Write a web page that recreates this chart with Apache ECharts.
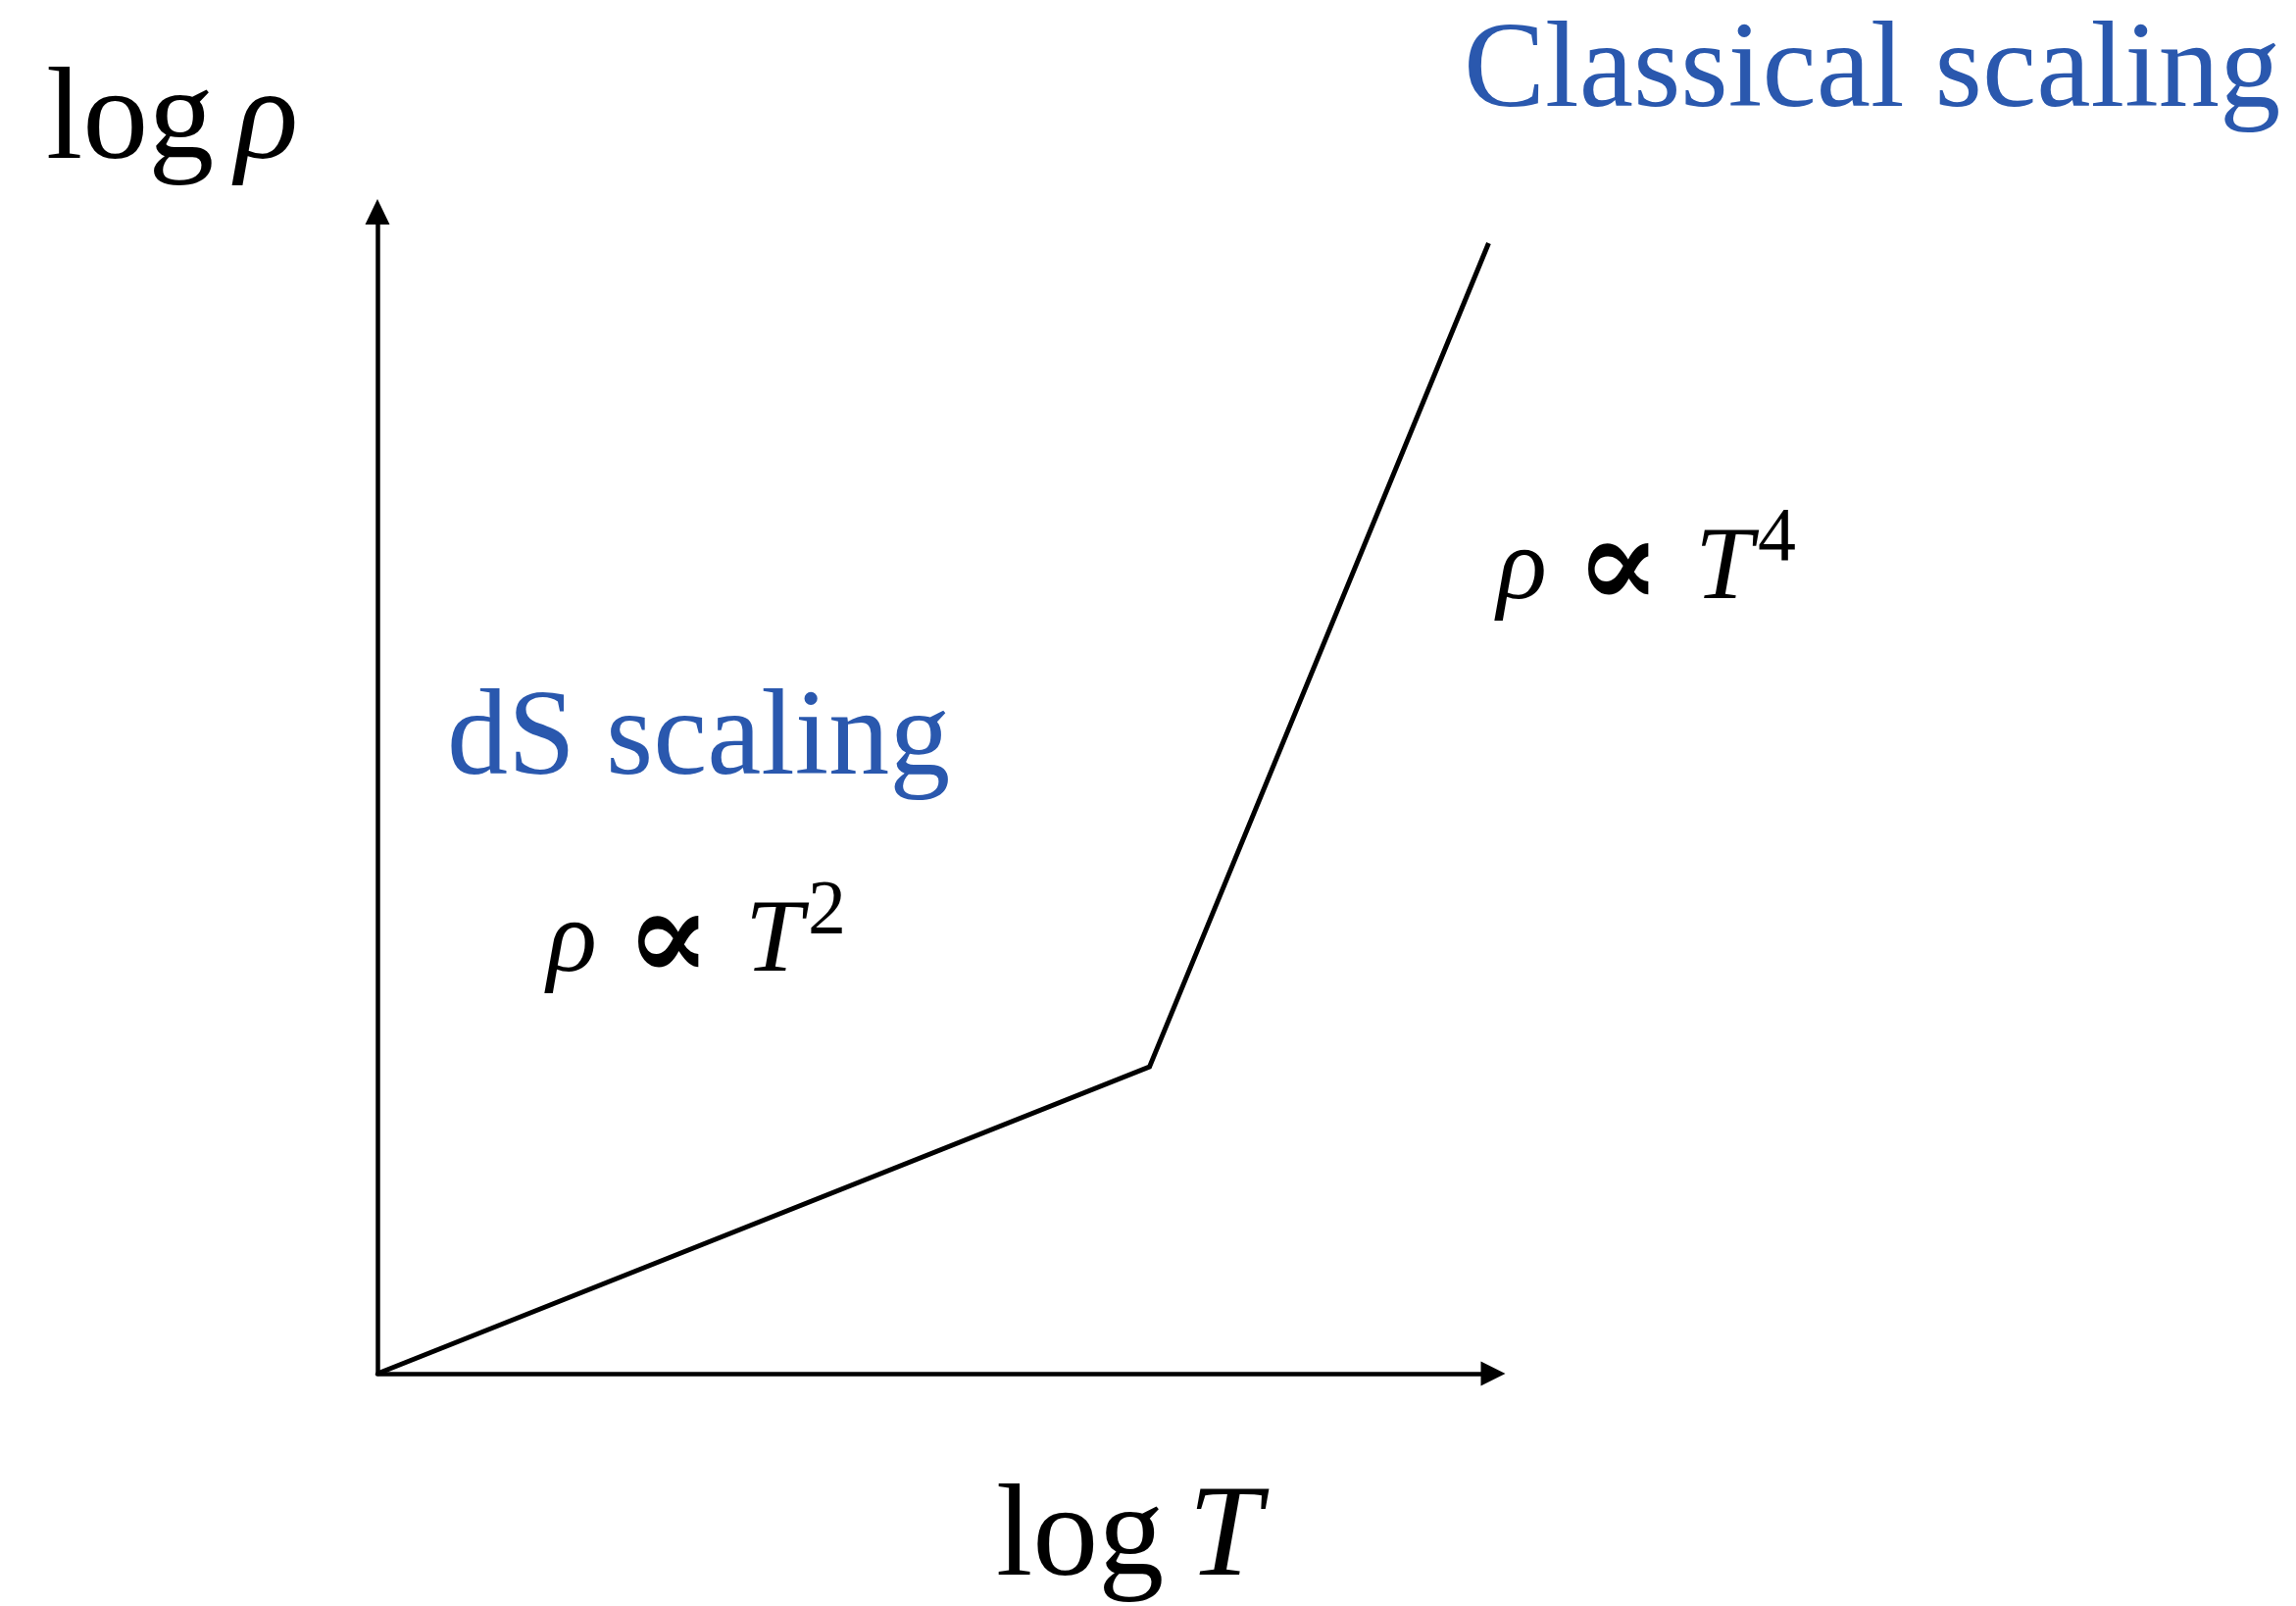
<!DOCTYPE html>
<html>
<head>
<meta charset="utf-8">
<script src="https://cdn.jsdelivr.net/npm/echarts@6/dist/echarts.min.js"></script>
<style>
  html, body { margin: 0; padding: 0; background: #ffffff; }
  #chart { width: 2342px; height: 1638px; }
</style>
</head>
<body>
<div id="chart"></div>
<script>
// Schematic energy density vs temperature (log-log): two scaling regimes
const logT = [0, 6.92, 9.96];
const logRho = [0, 2.64, 9.73];
const axisRange = { xMin: 0, xMax: 10, yMin: 0, yMax: 10 };

const BLUE = '#2A58AE';
const SERIF = '"Liberation Serif", "Times New Roman", "DejaVu Serif", serif';

const chart = echarts.init(document.getElementById('chart'));

const axisCommon = {
  type: 'value',
  axisLabel: { show: false },
  axisTick: { show: false },
  splitLine: { show: false }
};

// x is the left edge, baseline is the alphabetic baseline of the glyphs
function txt(x, baseline, text, size, opts) {
  opts = opts || {};
  return {
    type: 'text',
    x: x,
    y: baseline - 0.29 * size,
    style: {
      text: text,
      font: (opts.italic ? 'italic ' : '') + (opts.bold ? 'bold ' : '') + size + 'px ' + (opts.family || SERIF),
      fill: opts.color || '#000',
      verticalAlign: 'middle'
    }
  };
}

// "ρ ∝ T^n" laid out glyph by glyph
function propTo(x, baseline, power) {
  return [
    txt(x, baseline, 'ρ', 106, { italic: true }),
    txt(x + 80, baseline + 10, '∝', 130, { bold: true, family: '"DejaVu Serif", serif' }),
    txt(x + 202, baseline, 'T', 106, { italic: true }),
    txt(x + 266, baseline - 40, String(power), 78)
  ];
}

chart.setOption({
  animation: false,
  backgroundColor: '#ffffff',
  grid: { left: 385, right: 819, top: 216, bottom: 237, containLabel: false },
  xAxis: Object.assign({}, axisCommon, {
    min: axisRange.xMin, max: axisRange.xMax,
    axisLine: {
      show: true, onZero: false,
      symbol: ['none', 'triangle'], symbolSize: [25, 25],
      lineStyle: { color: '#000', width: 4.5 }
    }
  }),
  yAxis: Object.assign({}, axisCommon, {
    min: axisRange.yMin, max: axisRange.yMax,
    axisLine: {
      show: true, onZero: false,
      symbol: ['none', 'triangle'], symbolSize: [25, 26],
      lineStyle: { color: '#000', width: 4.5 }
    }
  }),
  series: [{
    type: 'line',
    data: logT.map((t, i) => [t, logRho[i]]),
    showSymbol: false,
    clip: false,
    lineStyle: { color: '#000', width: 5, join: 'miter' }
  }],
  graphic: [
    txt(47, 165, 'log', 134),
    txt(240, 165, 'ρ', 134, { italic: true }),
    txt(1016, 1610, 'log', 134),
    txt(1212, 1610, 'T', 134, { italic: true }),
    txt(1493, 111, 'Classical scaling', 124.5, { color: BLUE }),
    txt(456, 792, 'dS scaling', 124, { color: BLUE })
  ].concat(propTo(1527, 613, 4), propTo(558, 993, 2))
});
</script>
</body>
</html>
